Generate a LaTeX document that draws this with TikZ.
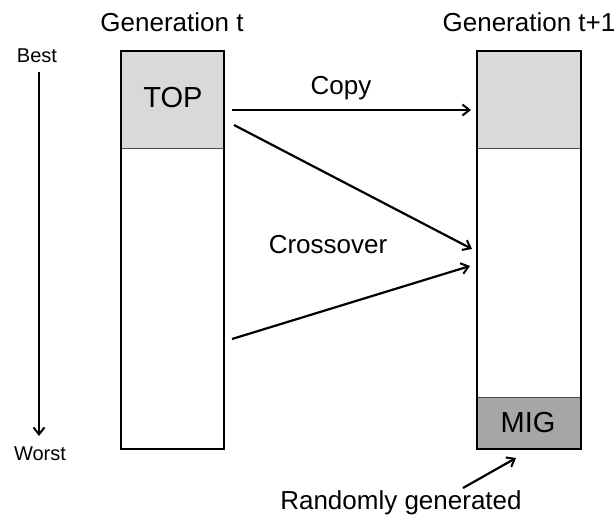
\documentclass[tikz,border=0pt]{standalone}
\usepackage{fontspec}
\setmainfont{Liberation Sans}
\usetikzlibrary{arrows.meta}
\definecolor{lightg}{RGB}{217,217,217}
\definecolor{darkg}{RGB}{166,166,166}
\begin{document}
\begin{tikzpicture}[x=1pt,y=-1pt,
  box/.style={draw=black,line width=1.8pt},
  divider/.style={draw=black!70,line width=0.8pt},
  arr/.style={-{Straight Barb[length=7pt,width=11pt,line width=2pt]},line width=2.2pt},
  lbl/.style={inner sep=0pt,font=\fontsize{26}{30}\selectfont},
  small/.style={inner sep=0pt,font=\fontsize{20}{24}\selectfont},
  big/.style={inner sep=0pt,font=\fontsize{29}{34}\selectfont}]
\useasboundingbox (0,0) rectangle (616,518);
% left column
\fill[lightg] (121,51) rectangle (224,148);
\draw[divider] (121,148) -- (224,148);
\draw[box] (121,51) rectangle (224,449);
\node[big] (top) at (173,98) {TOP};
% right column
\fill[lightg] (477,51) rectangle (581,148);
\fill[darkg] (477,397) rectangle (581,449);
\draw[divider] (477,148) -- (581,148);
\draw[divider] (477,397) -- (581,397);
\draw[box] (477,51) rectangle (581,449);
\node[big] (mig) at (528,423) {MIG};
% headings
\node[lbl] (gt) at (172,22) {Generation t};
\node[lbl] (gt1) at (529,22) {Generation t+1};
\node[small] (best) at (37,56) {Best};
\node[small] (worst) at (40,454) {Worst};
\coordinate (bs) at (39,72);
\coordinate (be) at (39,436);
\draw[arr] (bs) -- (be);
% arrows
\coordinate (c1) at (232,110);
\coordinate (c2) at (471,110);
\draw[arr] (c1) -- (c2);
\node[lbl] (copy) at (341,88) {Copy};
\coordinate (x1s) at (234,125);
\coordinate (x1e) at (472,249);
\draw[arr] (x1s) -- (x1e);
\coordinate (x2s) at (232,339);
\coordinate (x2e) at (470,266);
\draw[arr] (x2s) -- (x2e);
\node[lbl] (cross) at (328,245) {Crossover};
\coordinate (rs) at (463,488);
\coordinate (re) at (516,458);
\draw[arr] (rs) -- (re);
\node[lbl] (rand) at (401,503) {Randomly generated};
\end{tikzpicture}
\end{document}
